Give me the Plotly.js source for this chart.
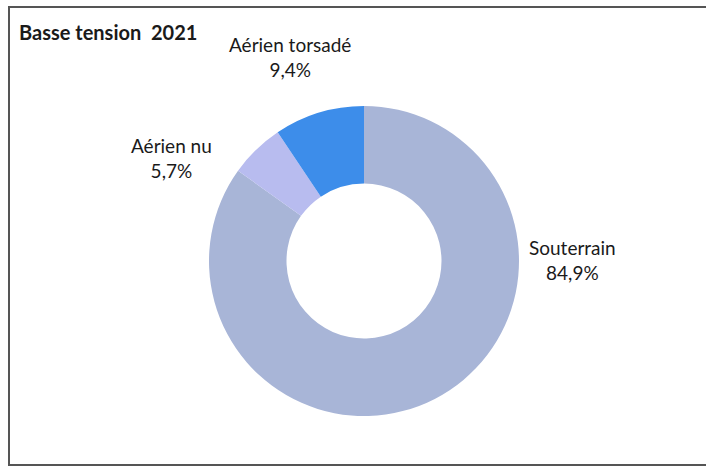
<!DOCTYPE html>
<html>
<head>
<meta charset="utf-8">
<script src="https://cdn.plot.ly/plotly-3.0.1.min.js"></script>
<style>
html,body{margin:0;padding:0;background:#fff;}
#chart{width:706px;height:468px;}
</style>
</head>
<body>
<div id="chart"></div>
<script>
// Data
const categories = ["Souterrain", "Aérien nu", "Aérien torsadé"];
const values = [84.9, 5.7, 9.4];
const colors = ["#A8B5D7", "#B8BCEF", "#3D8DEA"];
const chartTitle = "Basse tension  2021";

const W = 706, H = 468;
const cx = 364, cy = 261, R = 155;

// label anchor pixel positions (centre of the two-line block)
const labelPos = {
  "Souterrain": [572, 260],
  "Aérien nu": [171, 158],
  "Aérien torsadé": [290, 57]
};

function fmt(v){ return v.toFixed(1).replace('.', ',') + '%'; }

const trace = {
  type: 'pie',
  labels: categories,
  values: values,
  hole: 0.5,
  sort: false,
  direction: 'clockwise',
  rotation: 0,
  textinfo: 'none',
  hoverinfo: 'label+percent',
  marker: {colors: colors, line: {width: 0}},
  showlegend: false,
  domain: {
    x: [(cx - R) / W, (cx + R) / W],
    y: [(H - cy - R) / H, (H - cy + R) / H]
  }
};

const annotations = categories.map((c, i) => ({
  xref: 'paper', yref: 'paper',
  x: labelPos[c][0] / W,
  y: 1 - labelPos[c][1] / H,
  xanchor: 'center', yanchor: 'middle',
  text: c + '<br>' + fmt(values[i]),
  showarrow: false,
  font: {family: 'Lato, "Open Sans", sans-serif', size: 19, color: '#1a1a1a'}
}));

const layout = {
  width: W, height: H,
  margin: {l: 0, r: 0, t: 0, b: 0},
  paper_bgcolor: '#ffffff',
  title: {
    text: '<b>' + chartTitle + '</b>',
    x: 19 / W, xanchor: 'left', xref: 'paper',
    y: 1 - 33 / H, yanchor: 'middle', yref: 'paper',
    font: {family: 'Lato, "Open Sans", sans-serif', size: 20, color: '#1a1a1a'}
  },
  annotations: annotations,
  shapes: [{
    type: 'rect', xref: 'paper', yref: 'paper',
    x0: 9 / W, x1: 1.02, y0: 1 - 465 / H, y1: 1 - 7 / H,
    line: {color: '#555555', width: 2}
  }]
};

Plotly.newPlot('chart', [trace], layout, {displayModeBar: false, staticPlot: true});
</script>
</body>
</html>
